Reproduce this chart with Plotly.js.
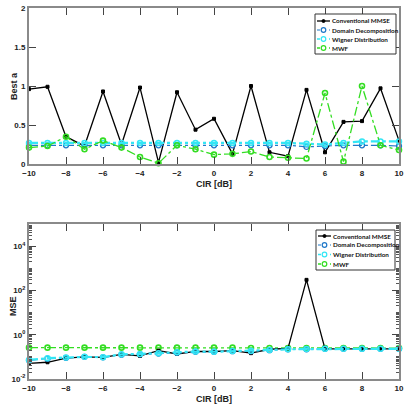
<!DOCTYPE html>
<html>
<head>
<meta charset="utf-8">
<script src="https://cdn.plot.ly/plotly-3.0.1.min.js"></script>
<style>
  html, body { margin: 0; padding: 0; background: #fff; }
  #chart { width: 408px; height: 408px; }
</style>
</head>
<body>
<div id="chart"></div>
<script>
// CIR sweep in dB
const cir = [-10, -9, -8, -7, -6, -5, -4, -3, -2, -1, 0, 1, 2, 3, 4, 5, 6, 7, 8, 9, 10];

// Best a per method
const bestConventional = [0.96, 0.99, 0.35, 0.23, 0.93, 0.25, 0.98, 0.02, 0.92, 0.44, 0.58, 0.13, 1.00, 0.15, 0.10, 0.95, 0.15, 0.54, 0.55, 0.97, 0.30];
const bestDomain       = [0.24, 0.24, 0.24, 0.24, 0.24, 0.24, 0.24, 0.24, 0.24, 0.24, 0.24, 0.24, 0.24, 0.24, 0.24, 0.22, 0.23, 0.24, 0.24, 0.24, 0.23];
const bestWigner       = [0.27, 0.27, 0.27, 0.27, 0.27, 0.27, 0.27, 0.27, 0.27, 0.27, 0.27, 0.27, 0.27, 0.27, 0.27, 0.26, 0.25, 0.27, 0.29, 0.29, 0.29];
const bestMWF          = [0.21, 0.23, 0.35, 0.19, 0.30, 0.21, 0.09, 0.01, 0.24, 0.19, 0.12, 0.13, 0.16, 0.09, 0.08, 0.07, 0.91, 0.03, 1.00, 0.24, 0.18];

// MSE per method
const mseConventional = [0.051, 0.057, 0.087, 0.10, 0.095, 0.13, 0.11, 0.19, 0.135, 0.175, 0.175, 0.19, 0.147, 0.22, 0.24, 300, 0.23, 0.23, 0.23, 0.23, 0.23];
const mseDomain       = [0.070, 0.083, 0.090, 0.10, 0.095, 0.125, 0.13, 0.14, 0.155, 0.17, 0.17, 0.18, 0.18, 0.20, 0.22, 0.22, 0.23, 0.23, 0.23, 0.23, 0.23];
const mseWigner       = [0.073, 0.087, 0.093, 0.10, 0.097, 0.13, 0.135, 0.147, 0.16, 0.175, 0.17, 0.185, 0.19, 0.205, 0.22, 0.225, 0.23, 0.23, 0.23, 0.23, 0.23];
const mseMWF          = [0.26, 0.26, 0.26, 0.26, 0.26, 0.26, 0.26, 0.26, 0.26, 0.26, 0.26, 0.26, 0.25, 0.25, 0.25, 0.25, 0.25, 0.25, 0.25, 0.25, 0.25];

const seriesNames = ['Conventional MMSE', 'Domain Decomposition', 'Wigner Distribution', 'MWF'];
const xTickVals = [-10, -8, -6, -4, -2, 0, 2, 4, 6, 8, 10];
const logTickVals = [0.01, 1, 100, 10000];
const logTickText = ['10<sup>-2</sup>', '10<sup>0</sup>', '10<sup>2</sup>', '10<sup>4</sup>'];

// Visual style of each series (line colour, dash, width, marker)
const styles = [
  { color: '#000000', dash: 'solid',   width: 1.3, symbol: 'square',      size: 3, mline: 1 },
  { color: '#1f78c8', dash: 'dashdot', width: 1.2, symbol: 'circle-open', size: 5, mline: 1.3 },
  { color: '#33e6f5', dash: 'dashdot', width: 2.2, symbol: 'circle-open', size: 5, mline: 1.5 },
  { color: '#33dd22', dash: 'dashdot', width: 1.3, symbol: 'circle-open', size: 5, mline: 1.6 }
];

function trace(y, i, xa, ya) {
  const s = styles[i];
  return {
    x: cir, y: y, xaxis: xa, yaxis: ya, type: 'scatter', mode: 'lines+markers',
    name: seriesNames[i], showlegend: false, cliponaxis: false,
    line: { color: s.color, dash: s.dash, width: s.width },
    marker: { symbol: s.symbol, size: s.size, color: s.color, line: { color: s.color, width: s.mline } }
  };
}

const data = [
  trace(bestConventional, 0, 'x', 'y'),
  trace(bestDomain, 1, 'x', 'y'),
  trace(bestWigner, 2, 'x', 'y'),
  trace(bestMWF, 3, 'x', 'y'),
  trace(mseMWF, 3, 'x2', 'y2'),
  trace(mseConventional, 0, 'x2', 'y2'),
  trace(mseDomain, 1, 'x2', 'y2'),
  trace(mseWigner, 2, 'x2', 'y2')
];

// Plot frame in pixels
const W = 408, H = 408;
const M = { l: 29, r: 9, t: 8, b: 29 };
const pw = W - M.l - M.r, ph = H - M.t - M.b;
const px = v => (v - M.l) / pw;
const py = v => (H - M.b - v) / ph;

const sansFamily = 'Liberation Sans, Arial, sans-serif';
const tickFont = { family: sansFamily, size: 8, color: '#222', weight: 'bold' };
const titleFont = { family: sansFamily, size: 9, color: '#222', weight: 'bold' };
const legendFont = { family: 'Lato, Liberation Sans, sans-serif', size: 6.3, color: '#111', weight: 'bold' };

const axisCommon = {
  showgrid: false, zeroline: false, showline: true, linecolor: '#8a8a8a', linewidth: 2,
  mirror: 'ticks', ticks: 'inside', ticklen: 7, tickcolor: '#444', tickwidth: 1,
  tickfont: tickFont, automargin: false
};

// Boxed legends drawn from shapes and annotations
const shapes = [];
const annotations = [];
function addLegend(left, top, right, bottom, rows) {
  shapes.push({ type: 'rect', xref: 'paper', yref: 'paper', x0: px(left), x1: px(right), y0: py(top), y1: py(bottom),
    line: { color: '#333', width: 1 }, fillcolor: '#ffffff', layer: 'above' });
  rows.forEach((ry, i) => {
    const s = styles[i];
    const yy = py(top + ry);
    shapes.push({ type: 'line', xref: 'paper', yref: 'paper', x0: px(left + 2), x1: px(left + 15), y0: yy, y1: yy,
      line: { color: s.color, width: Math.min(s.width, 1.6), dash: i === 0 ? 'solid' : 'dot' }, layer: 'above' });
    const r = i === 0 ? 1.5 : 2.3;
    shapes.push({ type: 'circle', xref: 'paper', yref: 'paper', xsizemode: 'pixel', ysizemode: 'pixel',
      xanchor: px(left + 8.5), yanchor: yy, x0: -r, x1: r, y0: -r, y1: r,
      line: { color: s.color, width: i === 0 ? 1 : 1.2 }, fillcolor: i === 0 ? s.color : '#ffffff', layer: 'above' });
    annotations.push({ xref: 'paper', yref: 'paper', x: px(left + 16), y: yy, xanchor: 'left', yanchor: 'middle',
      align: 'left', text: seriesNames[i], showarrow: false, font: legendFont, borderpad: 0 });
  });
}
addLegend(315, 14, 396, 54, [7, 16, 25, 34]);
addLegend(316, 230, 395, 270, [6, 15, 24.5, 34]);

// Y axis titles placed beside the tick labels
annotations.push({ xref: 'paper', yref: 'paper', x: px(14), y: py(86), text: 'Best a', textangle: -90,
  showarrow: false, xanchor: 'center', yanchor: 'middle', font: titleFont });
annotations.push({ xref: 'paper', yref: 'paper', x: px(13), y: py(306), text: 'MSE', textangle: -90,
  showarrow: false, xanchor: 'center', yanchor: 'middle', font: titleFont });

const layout = {
  width: W, height: H, margin: M,
  paper_bgcolor: '#ffffff', plot_bgcolor: '#ffffff',
  showlegend: false,
  xaxis: Object.assign({}, axisCommon, {
    domain: [0, 1], anchor: 'y', range: [-10, 10], tickvals: xTickVals,
    title: { text: 'CIR [dB]', font: titleFont, standoff: 4 }
  }),
  yaxis: Object.assign({}, axisCommon, {
    domain: [py(164), 1], anchor: 'x', range: [0, 2], tickvals: [0, 0.5, 1, 1.5, 2],
    ticktext: ['0', '0.5', '1', '1.5', '2']
  }),
  xaxis2: Object.assign({}, axisCommon, {
    domain: [0, 1], anchor: 'y2', range: [-10, 10], tickvals: xTickVals,
    title: { text: 'CIR [dB]', font: titleFont, standoff: 4 }
  }),
  yaxis2: Object.assign({}, axisCommon, {
    domain: [0, py(224)], anchor: 'x2', type: 'log', range: [-2, 5],
    tickvals: logTickVals, ticktext: logTickText,
    minor: { ticks: 'inside', ticklen: 3, tickcolor: '#555', dtick: 'D1' }
  }),
  shapes: shapes,
  annotations: annotations
};

Plotly.newPlot('chart', data, layout, { staticPlot: true, displayModeBar: false });
</script>
</body>
</html>
